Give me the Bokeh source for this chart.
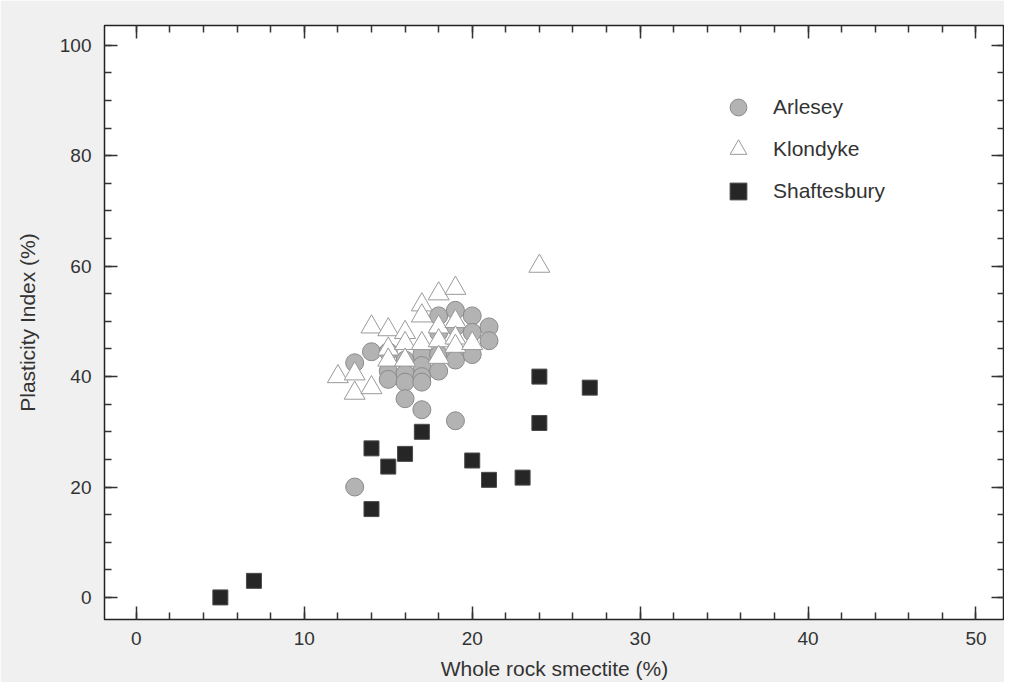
from bokeh.plotting import figure
from bokeh.models import (Range1d, LinearAxis, SingleIntervalTicker, Legend, LegendItem)
from bokeh.embed import file_html
from bokeh.resources import INLINE

# ---- data ----
arlesey_x = [13, 13, 14, 15, 15, 15, 16, 16, 16, 16, 17, 17, 17, 17, 17,
             18, 18, 18, 18, 19, 19, 19, 19, 19, 20, 20, 20, 21, 21]
arlesey_y = [20, 42.5, 44.5, 44.5, 41, 39.5, 43, 40.5, 39, 36, 44, 42, 40, 39, 34,
             51, 48, 44, 41, 52, 49, 44, 43, 32, 51, 48, 44, 49, 46.5]

klondyke_x = [12, 13, 13, 14, 14, 15, 15, 15, 16, 16, 16, 17, 17, 17,
              18, 18, 18, 18, 19, 19, 19, 19, 20, 24]
klondyke_y = [40, 40.5, 37, 38, 49, 48.5, 45, 43, 48, 46, 43, 53, 51, 46,
              55, 49, 46.5, 43.5, 56, 50, 47, 45.5, 46, 60]

shaft_x = [5, 7, 14, 14, 15, 16, 17, 20, 21, 23, 24, 24, 27]
shaft_y = [0, 3, 16, 27, 23.7, 26, 30, 24.8, 21.3, 21.7, 31.6, 40, 38]

x_label = "Whole rock smectite (%)"
y_label = "Plasticity Index (%)"
series_names = ["Arlesey", "Klondyke", "Shaftesbury"]

FONT = "Liberation Sans"
TXT = "#333333"

p = figure(width=1004, height=682, output_backend="svg", toolbar_location=None,
           x_range=Range1d(-1.9, 51.7), y_range=Range1d(-4, 103.6),
           x_axis_location=None, y_axis_location=None,
           min_border_left=104, min_border_right=0, min_border_top=25,
           min_border_bottom=62)
p.background_fill_color = "white"
p.border_fill_color = "#f0f0f0"
p.outline_line_color = "#222222"
p.outline_line_width = 1.5
p.xgrid.visible = False
p.ygrid.visible = False


def style_axis(ax, show_labels):
    ax.axis_line_color = None
    ax.major_tick_in = 13
    ax.major_tick_out = 0
    ax.minor_tick_in = 7
    ax.minor_tick_out = 0
    ax.major_tick_line_color = "#333333"
    ax.minor_tick_line_color = "#333333"
    ax.major_tick_line_width = 1.5
    ax.minor_tick_line_width = 1.5
    if show_labels:
        ax.major_label_text_font = FONT
        ax.major_label_text_font_size = "19px"
        ax.major_label_text_color = TXT
        ax.axis_label_text_font = FONT
        ax.axis_label_text_font_size = "21px"
        ax.axis_label_text_font_style = "normal"
        ax.axis_label_text_color = TXT
    else:
        ax.major_label_text_font_size = "0px"
        ax.major_label_standoff = 0
        ax.major_label_text_color = None


xt = SingleIntervalTicker(interval=10, num_minor_ticks=5)
yt = SingleIntervalTicker(interval=20, num_minor_ticks=4)

xb = LinearAxis(ticker=xt, axis_label=x_label)
style_axis(xb, True)
xb.major_label_standoff = 12
xb.axis_label_standoff = 9
p.add_layout(xb, "below")

yl = LinearAxis(ticker=yt, axis_label=y_label)
style_axis(yl, True)
yl.major_label_standoff = 13
yl.axis_label_standoff = 18
p.add_layout(yl, "left")

xa = LinearAxis(ticker=xt)
style_axis(xa, False)
p.add_layout(xa, "above")

yr = LinearAxis(ticker=yt)
style_axis(yr, False)
p.add_layout(yr, "right")

r_a = p.scatter(arlesey_x, arlesey_y, marker="circle", size=18,
                fill_color="#b3b3b3", line_color="#8a8a8a", line_width=1)
r_k = p.scatter(klondyke_x, klondyke_y, marker="triangle", size=21,
                fill_color="white", line_color="#9a9a9a", line_width=1)
r_s = p.scatter(shaft_x, shaft_y, marker="square", size=15,
                fill_color="#262626", line_color="#4a4a4a", line_width=1)

legend = Legend(items=[LegendItem(label=series_names[0], renderers=[r_a]),
                       LegendItem(label=series_names[1], renderers=[r_k]),
                       LegendItem(label=series_names[2], renderers=[r_s])],
                location=(613, 407))
legend.glyph_width = 42
legend.glyph_height = 42
legend.spacing = 0
legend.padding = 0
legend.margin = 0
legend.label_standoff = 14
legend.label_text_font = FONT
legend.label_text_font_size = "21px"
legend.label_text_color = TXT
legend.border_line_color = None
legend.background_fill_color = None
p.add_layout(legend, "center")

open("out.html", "w").write(file_html(p, INLINE))
